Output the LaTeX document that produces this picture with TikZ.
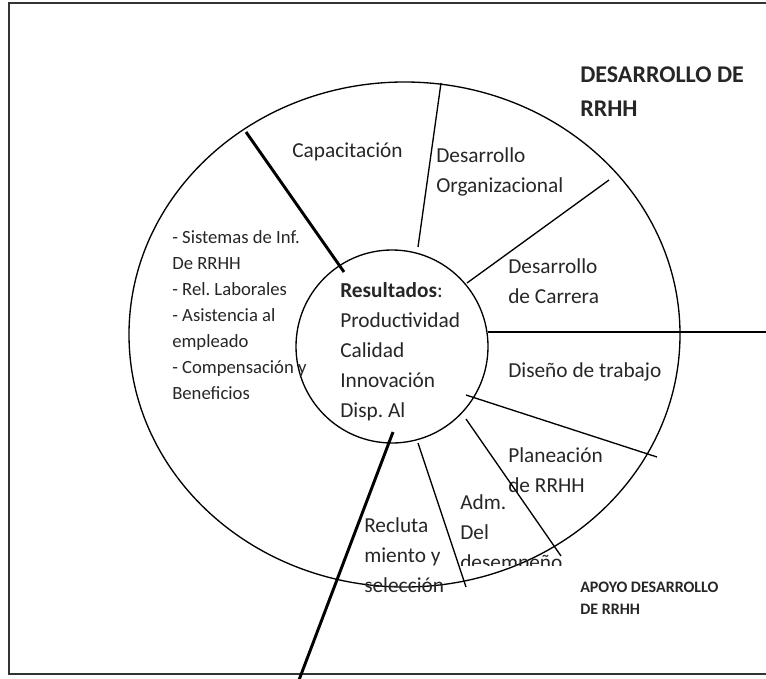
\documentclass[tikz,border=0pt]{standalone}
\usepackage{fontspec}
\setmainfont{Carlito}
\frenchspacing
\tikzset{
  txt/.style={anchor=base west, align=left, inner sep=0pt, text=black!85,
    font=\fontsize{16}{22.4}\selectfont},
  lst/.style={txt, font=\fontsize{14}{19.5}\selectfont},
  ttl/.style={txt, font=\bfseries\fontsize{18}{24.8}\selectfont},
  sml/.style={txt, font=\bfseries\fontsize{12}{16.5}\selectfont},
  cut/.style={line width=1pt},
  bigcut/.style={line width=2.2pt}
}

\begin{document}
\begin{tikzpicture}[x=0.75pt,y=-0.75pt]
  \clip (0,0) rectangle (766,678);
  \draw[line width=1.5pt, black!80] (780,3) -- (8.5,3) -- (8.5,674) -- (780,674);

  \coordinate (outer) at (404.5,334.5);
  \coordinate (inner) at (392,346.5);
  \draw[cut] (outer) ellipse [x radius=275.5, y radius=252.5];
  \draw[cut] (inner) ellipse [x radius=96, y radius=96.5];

  \node[ttl] (titulo)  at (580,116) {DESARROLLO DE\\RRHH};
  \node[txt] (capac)   at (292,157) {Capacitación};
  \node[txt] (desorg)  at (436,192) {Desarrollo\\Organizacional};
  \node[lst] (lista)   at (172,399) {- Sistemas de Inf.\\De RRHH\\- Rel. Laborales\\- Asistencia al\\empleado\\- Compensación y\\Beneficios};
  \node[txt] (result)  at (340,417) {\textbf{Resultados}:\\Productividad\\Calidad\\Innovación\\Disp. Al};
  \node[txt] (descar)  at (508,303) {Desarrollo\\de Carrera};
  \node[txt] (diseno)  at (508,377) {Diseño de trabajo};
  \node[txt] (planea)  at (508,492) {Planeación\\de RRHH};
  \begin{scope}
    \clip (440,480) rectangle (580,565);
    \node[txt] (admdes) at (460,569) {Adm.\\Del\\desempeño};
  \end{scope}
  \node[txt] (reclut)  at (364,592) {Recluta\\miento y\\selección};
  \node[sml] (apoyo)   at (580,614) {APOYO DESARROLLO\\DE RRHH};

  \coordinate (a1) at (246,132); \coordinate (a2) at (344,272);
  \coordinate (b1) at (441,83);  \coordinate (b2) at (418,247);
  \coordinate (c1) at (609,180); \coordinate (c2) at (467,283);
  \coordinate (d1) at (488,332); \coordinate (d2) at (770,332);
  \coordinate (e1) at (466,395); \coordinate (e2) at (657,457);
  \coordinate (f1) at (466,419); \coordinate (f2) at (561,556);
  \coordinate (g1) at (418,443); \coordinate (g2) at (466,587);
  \coordinate (h1) at (393,432); \coordinate (h2) at (299,680);

  \draw[bigcut] (a1) -- (a2);
  \draw[cut]    (b1) -- (b2);
  \draw[cut]    (c1) -- (c2);
  \draw[bigcut] (d1) -- (d2);
  \draw[cut]    (e1) -- (e2);
  \draw[cut]    (f1) -- (f2);
  \draw[cut]    (g1) -- (g2);
  \draw[bigcut] (h1) -- (h2);
\end{tikzpicture}
\end{document}
